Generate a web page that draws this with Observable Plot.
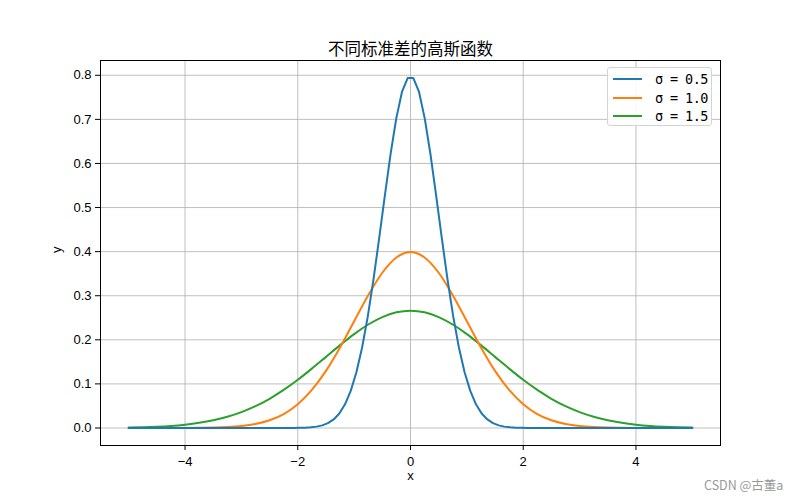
<!DOCTYPE html>
<html>
<head>
<meta charset="utf-8">
<script src="https://cdn.jsdelivr.net/npm/d3@7"></script>
<script src="https://cdn.jsdelivr.net/npm/@observablehq/plot@0.6"></script>
<style>
  body { margin: 0; background: #fff; }
  #wrap { position: relative; width: 800px; height: 500px; font-family: "Noto Sans CJK SC", sans-serif; }
  #legend { position: absolute; left: 607px; top: 67px; width: 105px; height: 59px; border: 1px solid #d4d4d4; border-radius: 3px; background: rgba(255,255,255,0.85); box-sizing: border-box; }
  .row { position: absolute; left: 0; height: 18px; width: 100%; }
  .sw { position: absolute; left: 5px; top: 8px; width: 29px; height: 2px; }
  .lab { position: absolute; left: 47px; top: 0; font-size: 13.5px; line-height: 18px; white-space: pre; font-family: "DejaVu Sans Mono", monospace; letter-spacing: -0.6px; }
  #wm { position: absolute; left: 704px; top: 475px; font-size: 12.5px; color: #999; }
</style>
</head>
<body>
<div id="wrap"></div>
<script>
const title = "不同标准差的高斯函数";
const xLabel = "x";
const yLabel = "y";
const seriesNames = ["σ = 0.5", "σ = 1.0", "σ = 1.5"];
const seriesColors = ["#1f77b4", "#ff7f0e", "#2ca02c"];
const xTicks = [-4, -2, 0, 2, 4];
const yTicks = [0.0, 0.1, 0.2, 0.3, 0.4, 0.5, 0.6, 0.7, 0.8];

// σ = 0.5
const xA = [-5, -4, -3, -2.0707, -1.9697, -1.8687, -1.7677, -1.6667, -1.5657, -1.4646, -1.3636, -1.2626, -1.1616, -1.0606, -0.9596, -0.8586, -0.7576, -0.6566, -0.5556, -0.4545, -0.3535, -0.2525, -0.1515, -0.0505,
            0.0505, 0.1515, 0.2525, 0.3535, 0.4545, 0.5556, 0.6566, 0.7576, 0.8586, 0.9596, 1.0606, 1.1616, 1.2626, 1.3636, 1.4646, 1.5657, 1.6667, 1.7677, 1.8687, 1.9697, 2.0707, 3, 4, 5];
const yA = [0, 0, 0, 0.0001, 0.0003, 0.0007, 0.0015, 0.0031, 0.0059, 0.0109, 0.0194, 0.0329, 0.0537, 0.0841, 0.1265, 0.1826, 0.2532, 0.3369, 0.4304, 0.5278, 0.6214, 0.7023, 0.7621, 0.7938,
            0.7938, 0.7621, 0.7023, 0.6214, 0.5278, 0.4304, 0.3369, 0.2532, 0.1826, 0.1265, 0.0841, 0.0537, 0.0329, 0.0194, 0.0109, 0.0059, 0.0031, 0.0015, 0.0007, 0.0003, 0.0001, 0, 0, 0];

// σ = 1.0 and σ = 1.5
const xBC = [-5, -4.75, -4.5, -4.25, -4, -3.75, -3.5, -3.25, -3, -2.75, -2.5, -2.25, -2, -1.75, -1.5, -1.25, -1, -0.75, -0.5, -0.25, 0,
             0.25, 0.5, 0.75, 1, 1.25, 1.5, 1.75, 2, 2.25, 2.5, 2.75, 3, 3.25, 3.5, 3.75, 4, 4.25, 4.5, 4.75, 5];
const yB = [0, 0, 0, 0, 0.0001, 0.0004, 0.0009, 0.0020, 0.0044, 0.0091, 0.0175, 0.0317, 0.0540, 0.0863, 0.1295, 0.1826, 0.2420, 0.3011, 0.3521, 0.3867, 0.3989,
            0.3867, 0.3521, 0.3011, 0.2420, 0.1826, 0.1295, 0.0863, 0.0540, 0.0317, 0.0175, 0.0091, 0.0044, 0.0020, 0.0009, 0.0004, 0.0001, 0, 0, 0, 0];
const yC = [0.0010, 0.0018, 0.0030, 0.0048, 0.0076, 0.0117, 0.0175, 0.0254, 0.0360, 0.0495, 0.0663, 0.0863, 0.1093, 0.1347, 0.1613, 0.1879, 0.2130, 0.2347, 0.2516, 0.2623, 0.2660,
            0.2623, 0.2516, 0.2347, 0.2130, 0.1879, 0.1613, 0.1347, 0.1093, 0.0863, 0.0663, 0.0495, 0.0360, 0.0254, 0.0175, 0.0117, 0.0076, 0.0048, 0.0030, 0.0018, 0.0010];

const dA = xA.map((x, i) => ({x, y: yA[i]}));
const dB = xBC.map((x, i) => ({x, y: yB[i]}));
const dC = xBC.map((x, i) => ({x, y: yC[i]}));

const gridStyle = {stroke: "#b0b0b0", strokeOpacity: 1, strokeWidth: 0.8};
const latin = "'Liberation Sans', Arial, sans-serif";

const chart = Plot.plot({
  width: 800,
  height: 500,
  marginLeft: 100,
  marginRight: 80,
  marginTop: 60,
  marginBottom: 55,
  style: {fontFamily: latin, fontSize: "13px", color: "black", background: "white", overflow: "visible"},
  x: {domain: [-5.5, 5.5]},
  y: {domain: [-0.0397, 0.8335]},
  marks: [
    Plot.gridX(xTicks, gridStyle),
    Plot.gridY(yTicks, gridStyle),
    Plot.line(dC, {x: "x", y: "y", stroke: seriesColors[2], strokeWidth: 2, curve: "monotone-x"}),
    Plot.line(dB, {x: "x", y: "y", stroke: seriesColors[1], strokeWidth: 2, curve: "monotone-x"}),
    Plot.line(dA, {x: "x", y: "y", stroke: seriesColors[0], strokeWidth: 2}),
    Plot.frame({stroke: "black", strokeWidth: 1}),
    Plot.axisX(xTicks, {tickSize: 5, tickPadding: 6, label: null, fontSize: 13}),
    Plot.axisY(yTicks, {tickSize: 5, tickPadding: 4, label: null, fontSize: 13, tickFormat: d => d.toFixed(1)}),
    Plot.text([title], {frameAnchor: "top", dy: -17, text: d => d, fontSize: 16.5, fill: "black", fontFamily: "'Noto Sans CJK SC', sans-serif"}),
    Plot.text([xLabel], {frameAnchor: "bottom", dy: 34, text: d => d, fontSize: 13, fill: "black"}),
    Plot.text([yLabel], {frameAnchor: "left", dx: -44, text: d => d, fontSize: 13, rotate: -90, fill: "black"})
  ]
});

const wrap = document.getElementById("wrap");
wrap.appendChild(chart);

const legend = document.createElement("div");
legend.id = "legend";
seriesNames.forEach((name, i) => {
  const row = document.createElement("div");
  row.className = "row";
  row.style.top = (2 + i * 18.5) + "px";
  const sw = document.createElement("div");
  sw.className = "sw";
  sw.style.background = seriesColors[i];
  const lab = document.createElement("div");
  lab.className = "lab";
  lab.textContent = name;
  row.appendChild(sw);
  row.appendChild(lab);
  legend.appendChild(row);
});
wrap.appendChild(legend);

const wm = document.createElement("div");
wm.id = "wm";
wm.textContent = "CSDN @古董a";
wrap.appendChild(wm);
</script>
</body>
</html>
